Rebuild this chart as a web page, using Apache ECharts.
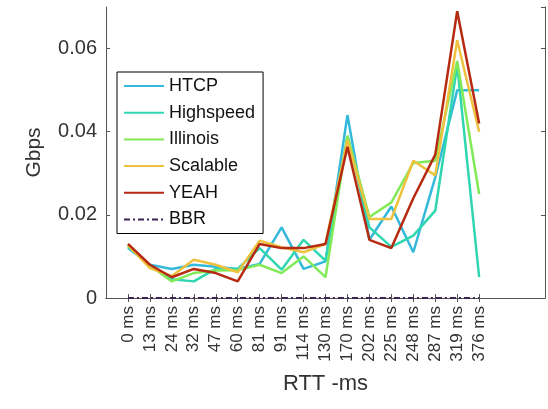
<!DOCTYPE html>
<html>
<head>
<meta charset="utf-8">
<script src="https://cdn.jsdelivr.net/npm/echarts@6/dist/echarts.min.js"></script>
<style>
html,body{margin:0;padding:0;background:#fff;}
#chart{width:548px;height:409px;}
</style>
</head>
<body>
<div id="chart"></div>
<script>
var categories = ['0 ms','13 ms','24 ms','32 ms','47 ms','60 ms','81 ms','91 ms','114 ms','130 ms','170 ms','202 ms','225 ms','248 ms','287 ms','319 ms','376 ms'];
var htcp      = [0.012, 0.008, 0.007, 0.008, 0.0075, 0.007, 0.0082, 0.017, 0.007, 0.0088, 0.044, 0.014, 0.022, 0.011, 0.029, 0.050, 0.050];
var highspeed = [0.0125, 0.0078, 0.0045, 0.004, 0.007, 0.007, 0.012, 0.0068, 0.014, 0.009, 0.039, 0.017, 0.0123, 0.015, 0.021, 0.056, 0.005];
var illinois  = [0.0125, 0.0078, 0.004, 0.006, 0.0066, 0.0067, 0.008, 0.006, 0.010, 0.005, 0.039, 0.0195, 0.023, 0.0325, 0.033, 0.057, 0.025];
var scalable  = [0.0128, 0.0072, 0.0053, 0.0092, 0.008, 0.0062, 0.0138, 0.0122, 0.011, 0.013, 0.038, 0.019, 0.019, 0.033, 0.0295, 0.062, 0.040];
var yeah      = [0.013, 0.008, 0.005, 0.007, 0.006, 0.004, 0.013, 0.012, 0.012, 0.013, 0.0364, 0.014, 0.012, 0.024, 0.0345, 0.069, 0.042];
var bbr       = [0, 0, 0, 0, 0, 0, 0, 0, 0, 0, 0, 0, 0, 0, 0, 0, 0];
var seriesNames = ['HTCP','Highspeed','Illinois','Scalable','YEAH','BBR'];

var FONT = "'Liberation Sans', Arial, Helvetica, sans-serif";
var axisData = [''].concat(categories, ['', '', '']);
function pad(arr){ return [null].concat(arr); }
function isCat(i){ return i >= 1 && i <= categories.length; }

var colors = ['#34b9da', '#30d6b0', '#82ea58', '#eec13e', '#b52a10', '#3a2452'];
var dataList = [htcp, highspeed, illinois, scalable, yeah, bbr];

var series = dataList.map(function(d, k){
  return {
    name: seriesNames[k],
    type: 'line',
    data: pad(d),
    symbol: 'none',
    xAxisIndex: 0,
    yAxisIndex: 0,
    lineStyle: { width: k === 5 ? 2 : 2.5, color: colors[k], type: k === 5 ? [6, 3, 2, 3] : 'solid' },
    itemStyle: { color: colors[k] },
    animation: false,
    z: 2 + k
  };
});

var chart = echarts.init(document.getElementById('chart'), null, {renderer: 'canvas'});
chart.setOption({
  animation: false,
  backgroundColor: '#fff',
  textStyle: { fontFamily: FONT },
  grid: { left: 106, right: 3, top: 7, bottom: 111, containLabel: false },
  legend: {
    orient: 'vertical',
    left: 117,
    top: 72,
    data: seriesNames,
    borderColor: '#000',
    borderWidth: 1,
    backgroundColor: '#fff',
    padding: [5, 8, 5, 6],
    itemWidth: 40,
    itemHeight: 2,
    itemGap: 8.7,
    itemStyle: { opacity: 0 },
    textStyle: { fontSize: 18, color: '#111', fontFamily: FONT, lineHeight: 18 }
  },
  xAxis: [{
    type: 'category',
    data: axisData,
    boundaryGap: false,
    position: 'bottom',
    name: 'RTT -ms',
    nameLocation: 'middle',
    nameGap: 75,
    nameTextStyle: { fontSize: 22, color: '#333', fontFamily: FONT },
    axisLine: { lineStyle: { color: '#555', width: 1 } },
    axisTick: { inside: true, length: 4, interval: function(i){ return isCat(i); }, lineStyle: { color: '#555' } },
    axisLabel: { rotate: 90, fontSize: 17, color: '#333', margin: 8, interval: function(i){ return isCat(i); }, fontFamily: FONT },
    splitLine: { show: false }
  }, {
    type: 'category',
    data: axisData,
    boundaryGap: false,
    position: 'top',
    axisLine: { lineStyle: { color: '#555', width: 1 } },
    axisTick: { inside: true, length: 4, interval: function(i){ return isCat(i); }, lineStyle: { color: '#555' } },
    axisLabel: { show: false },
    splitLine: { show: false }
  }],
  yAxis: [{
    type: 'value',
    min: 0,
    max: 0.07,
    interval: 0.02,
    position: 'left',
    name: 'Gbps',
    nameLocation: 'middle',
    nameGap: 61,
    nameRotate: 90,
    nameTextStyle: { fontSize: 21, color: '#333', fontFamily: FONT },
    axisLine: { show: true, lineStyle: { color: '#555', width: 1 } },
    axisTick: { show: true, inside: true, length: 4, lineStyle: { color: '#555' } },
    axisLabel: { fontSize: 20, color: '#333', margin: 9, showMaxLabel: false, fontFamily: FONT,
      formatter: function(v){ return v === 0 ? '0' : v.toFixed(2); } },
    splitLine: { show: false }
  }, {
    type: 'value',
    min: 0,
    max: 0.07,
    interval: 0.02,
    position: 'right',
    axisLine: { show: true, lineStyle: { color: '#555', width: 1 } },
    axisTick: { show: true, inside: true, length: 4, lineStyle: { color: '#555' } },
    axisLabel: { show: false },
    splitLine: { show: false }
  }],
  series: series
});
</script>
</body>
</html>
